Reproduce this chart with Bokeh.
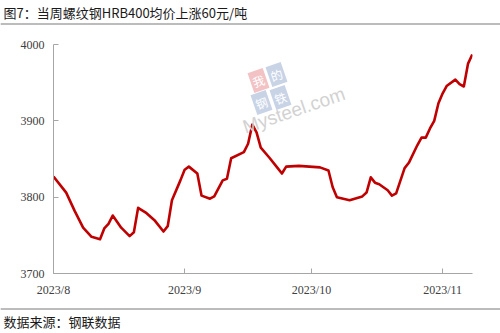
import pandas as pd
from bokeh.plotting import figure
from bokeh.models import (Range1d, FixedTicker, Label, BoxAnnotation, ColumnDataSource)
from bokeh.layouts import column
from bokeh.embed import file_html
from bokeh.resources import INLINE

# ---- data ----
dates = [
    "2023-08-01", "2023-08-04", "2023-08-06", "2023-08-08", "2023-08-10",
    "2023-08-12", "2023-08-13", "2023-08-14", "2023-08-15", "2023-08-17",
    "2023-08-19", "2023-08-20", "2023-08-21", "2023-08-23", "2023-08-25",
    "2023-08-27", "2023-08-28", "2023-08-29", "2023-08-31", "2023-09-01",
    "2023-09-02", "2023-09-04", "2023-09-05", "2023-09-07", "2023-09-08",
    "2023-09-10", "2023-09-11", "2023-09-12", "2023-09-15", "2023-09-16",
    "2023-09-17", "2023-09-18", "2023-09-19", "2023-09-21", "2023-09-23",
    "2023-09-24", "2023-09-25", "2023-09-28", "2023-10-03", "2023-10-05",
    "2023-10-06", "2023-10-07", "2023-10-10", "2023-10-13", "2023-10-14",
    "2023-10-15", "2023-10-16", "2023-10-17", "2023-10-19", "2023-10-20",
    "2023-10-21", "2023-10-23", "2023-10-24", "2023-10-26", "2023-10-27",
    "2023-10-28", "2023-10-29", "2023-10-30", "2023-10-31", "2023-11-01",
    "2023-11-02", "2023-11-04", "2023-11-05", "2023-11-06", "2023-11-07",
    "2023-11-08",
]
prices = [
    3827, 3806, 3782, 3760, 3748,
    3745, 3759, 3765, 3776, 3760,
    3749, 3754, 3786, 3779, 3769,
    3755, 3762, 3796, 3822, 3836,
    3840, 3831, 3802, 3798, 3801,
    3822, 3824, 3851, 3859, 3870,
    3895, 3885, 3865, 3852, 3838,
    3831, 3840, 3841, 3839, 3835,
    3813, 3800, 3796, 3801, 3806,
    3826, 3819, 3817, 3809, 3802,
    3805, 3838, 3845, 3868, 3878,
    3878, 3890, 3900, 3923, 3936,
    3946, 3954, 3948, 3945, 3975,
    3987,
]
tick_dates = ["2023-08-01", "2023-09-01", "2023-10-01", "2023-11-01"]
tick_labels = ["2023/8", "2023/9", "2023/10", "2023/11"]
y_ticks = [3700, 3800, 3900, 4000]
title_text = "图7：当周螺纹钢HRB400均价上涨60元/吨"
source_text = "数据来源：钢联数据"
unit_text = "(元/吨)"

CJK = "Noto Sans CJK SC"
RULE = "#a6a6a6"
STRIP_W = 500

start = pd.Timestamp("2023-08-01")
end = pd.Timestamp("2023-11-08")
xs = [(pd.Timestamp(d) - start).days for d in dates]
tick_x = [(pd.Timestamp(d) - start).days for d in tick_dates]
src = ColumnDataSource(dict(x=xs, y=prices))


def strip(height):
    f = figure(width=STRIP_W, height=height, output_backend="svg", toolbar_location=None,
               x_range=Range1d(0, STRIP_W), y_range=Range1d(0, height),
               x_axis_type=None, y_axis_type=None, min_border=0, frame_align=False)
    f.outline_line_color = None
    f.xgrid.visible = False
    f.ygrid.visible = False
    return f


def rule(f, y_from_bottom):
    # separator rule: a glyph line plus a screen-space box on the same pixel row
    f.line([0, STRIP_W], [y_from_bottom + 0.5, y_from_bottom + 0.5],
           line_color=RULE, line_width=1)
    f.add_layout(BoxAnnotation(left=0, right=STRIP_W, bottom=y_from_bottom,
                               top=y_from_bottom + 1, left_units="screen",
                               right_units="screen", bottom_units="screen",
                               top_units="screen", fill_color=RULE, fill_alpha=1,
                               line_color=None))


# ---- title strip ----
top = strip(26)
rule(top, 2)
top.add_layout(Label(x=3, y=14, x_units="screen", y_units="screen", text=title_text,
                     text_font=CJK, text_font_size="13px", text_color="#1a1a1a",
                     text_baseline="middle"))

# ---- main chart ----
p = figure(width=500, height=280, output_backend="svg", toolbar_location=None,
           x_range=Range1d(0, (end - start).days + 0.05), y_range=Range1d(3700, 4000),
           min_border_left=53, min_border_right=28, min_border_top=18,
           min_border_bottom=33, frame_align=False)
p.outline_line_color = None
p.xgrid.visible = False
p.ygrid.visible = False

# watermark
for ch, sx, sy, col in [("我", 205, 193, "#f2c2c4"), ("的", 223, 199, "#c8d3e6"),
                         ("钢", 208, 171, "#c8d3e6"), ("铁", 227, 176, "#c8d3e6")]:
    p.add_layout(Label(x=sx, y=sy, x_units="screen", y_units="screen", text=ch,
                       text_font=CJK, text_font_size="12px", text_color="white",
                       text_align="center", text_baseline="middle", angle=0.33,
                       background_fill_color=col, padding=2))
p.add_layout(Label(x=190, y=146, x_units="screen", y_units="screen", text="Mysteel.com",
                   text_font="Liberation Sans", text_font_size="19px",
                   text_color="#d2d2d2", angle=0.33,
                   text_align="left", text_baseline="alphabetic"))

p.line("x", "y", source=src, line_color="#C00000", line_width=2.6, line_join="round")

for ax in (p.xaxis[0], p.yaxis[0]):
    ax.axis_line_color = RULE
    ax.major_tick_line_color = RULE
    ax.minor_tick_line_color = None
    ax.major_tick_out = 0
    ax.major_tick_in = 5
    ax.major_label_text_font = "Liberation Serif"
    ax.major_label_text_font_size = "12px"
    ax.major_label_text_color = "#404040"

p.xaxis.ticker = FixedTicker(ticks=tick_x)
p.xaxis.major_label_overrides = {t: l for t, l in zip(tick_x, tick_labels)}
p.xaxis.major_label_standoff = 9
p.yaxis.ticker = FixedTicker(ticks=y_ticks)
p.yaxis.major_label_standoff = 9

p.add_layout(Label(x=64, y=261, x_units="screen", y_units="screen", text=unit_text,
                   text_font=CJK, text_font_size="11px",
                   text_color="#404040", text_baseline="middle"))

# ---- source strip ----
bottom = strip(27)
rule(bottom, 24)
bottom.add_layout(Label(x=3, y=12.5, x_units="screen", y_units="screen", text=source_text,
                        text_font=CJK, text_font_size="13px", text_color="#1a1a1a",
                        text_baseline="middle"))

layout = column(top, p, bottom, spacing=0)
open("out.html", "w").write(file_html(layout, INLINE))
